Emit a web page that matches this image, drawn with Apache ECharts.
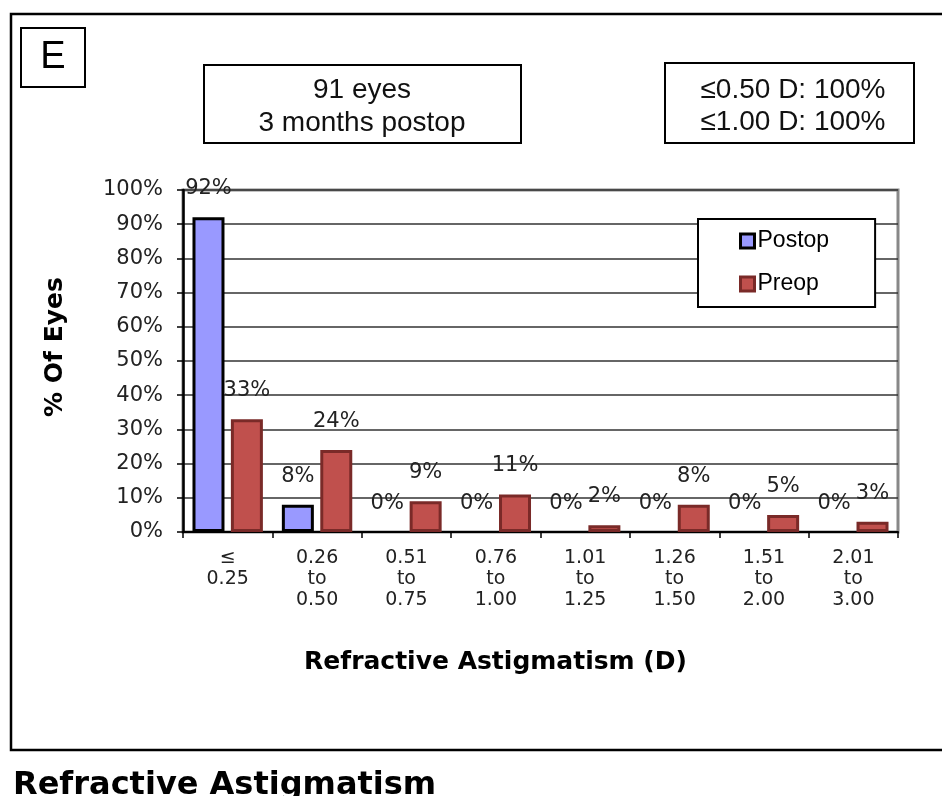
<!DOCTYPE html>
<html>
<head>
<meta charset="utf-8">
<script src="https://cdn.jsdelivr.net/npm/echarts@6/dist/echarts.min.js"></script>
<style>
  html, body { margin: 0; padding: 0; background: #fff; }
  #chart { width: 942px; height: 796px; }
</style>
</head>
<body>
<div id="chart"></div>
<script>
// Astigmatism ranges (dioptres) and share of eyes in each range
const categories = ['≤\n0.25', '0.26\nto\n0.50', '0.51\nto\n0.75', '0.76\nto\n1.00',
                    '1.01\nto\n1.25', '1.26\nto\n1.50', '1.51\nto\n2.00', '2.01\nto\n3.00'];
const postopValues = [92, 8, 0, 0, 0, 0, 0, 0];
const preopValues = [33, 24, 9, 11, 2, 8, 5, 3];
const panelLetter = 'E';
const cohortLines = ['91 eyes', '3 months postop'];
const summaryLines = ['≤0.50 D: 100%', '≤1.00 D: 100%'];
const chartTitle = 'Refractive Astigmatism';

const sans = '"Liberation Sans", Arial, sans-serif';
const verdana = '"DejaVu Sans", Verdana, sans-serif';

const chart = echarts.init(document.getElementById('chart'), null, { renderer: 'canvas' });

const barLabel = {
  show: true,
  position: 'top',
  distance: 18,
  formatter: '{c}%',
  color: '#222',
  fontFamily: verdana,
  fontSize: 21
};

// empty bars get no outline so nothing is stroked along the baseline
const withoutEmptyOutline = values =>
  values.map(v => (v === 0 ? { value: v, itemStyle: { borderWidth: 0 } } : v));

chart.setOption({
  animation: false,
  backgroundColor: '#fff',
  grid: {
    left: 183, top: 190, right: 44, bottom: 264,
    show: true,
    borderColor: '#888',
    borderWidth: 3
  },
  legend: {
    orient: 'vertical',
    left: 698,
    top: 219,
    backgroundColor: '#fff',
    borderColor: '#000',
    borderWidth: 2,
    padding: [10, 46, 11, 41],
    itemGap: 19,
    itemWidth: 14,
    itemHeight: 14,
    icon: 'rect',
    textStyle: { fontFamily: sans, fontSize: 23, color: '#000', lineHeight: 24, padding: [0, 0, 0, -2] },
    data: [
      { name: 'Postop', itemStyle: { color: '#9999ff', borderColor: '#000', borderWidth: 3 } },
      { name: 'Preop', itemStyle: { color: '#c0504d', borderColor: '#7a2a28', borderWidth: 3 } }
    ]
  },
  xAxis: {
    type: 'category',
    data: categories,
    boundaryGap: true,
    name: 'Refractive Astigmatism (D)',
    nameLocation: 'middle',
    nameGap: 118,
    nameTextStyle: { fontFamily: verdana, fontWeight: 'bold', fontSize: 25, color: '#000', padding: [0, 90, 0, 0] },
    axisLine: { lineStyle: { color: '#000', width: 2 } },
    axisTick: { show: true, inside: false, length: 6, alignWithLabel: false, lineStyle: { color: '#000', width: 1.5 } },
    axisLabel: { fontFamily: verdana, fontSize: 19, color: '#222', lineHeight: 21, margin: 16, interval: 0 },
    splitLine: { show: false }
  },
  yAxis: {
    type: 'value',
    min: 0,
    max: 100,
    interval: 10,
    name: '% Of Eyes',
    nameLocation: 'middle',
    nameRotate: 90,
    nameGap: 115,
    nameTextStyle: { fontFamily: verdana, fontWeight: 'bold', fontSize: 25, color: '#000', padding: [0, 0, 0, 28] },
    axisLine: { show: true, lineStyle: { color: '#000', width: 2.5 } },
    axisTick: { show: true, inside: false, length: 6, lineStyle: { color: '#000', width: 1.5 } },
    axisLabel: { formatter: '{value}%', fontFamily: verdana, fontSize: 21, color: '#222', margin: 20 },
    splitLine: { show: true, lineStyle: { color: '#333', width: 1.5 } }
  },
  series: [
    {
      name: 'Postop',
      type: 'bar',
      data: withoutEmptyOutline(postopValues),
      barWidth: 32,
      barGap: '20%',
      itemStyle: { color: '#9999ff', borderColor: '#000', borderWidth: 3 },
      label: barLabel
    },
    {
      name: 'Preop',
      type: 'bar',
      data: withoutEmptyOutline(preopValues),
      barWidth: 32,
      barGap: '20%',
      itemStyle: { color: '#c0504d', borderColor: '#7a2a28', borderWidth: 3 },
      label: barLabel
    }
  ],
  graphic: [
    // outer frame of the panel
    { type: 'rect', shape: { x: 11, y: 14, width: 960, height: 736 }, style: { fill: null, stroke: '#000', lineWidth: 2.5 }, z: -1 },
    // panel letter
    { type: 'rect', shape: { x: 21, y: 28, width: 64, height: 59 }, style: { fill: '#fff', stroke: '#000', lineWidth: 2 } },
    { type: 'text', x: 53, y: 58, style: { text: panelLetter, font: '38px ' + sans, fill: '#000', align: 'center', verticalAlign: 'middle' } },
    // cohort box
    { type: 'rect', shape: { x: 204, y: 65, width: 317, height: 78 }, style: { fill: '#fff', stroke: '#000', lineWidth: 2 } },
    { type: 'text', x: 362, y: 90, style: { text: cohortLines[0], font: '28px ' + sans, fill: '#111', align: 'center', verticalAlign: 'middle' } },
    { type: 'text', x: 362, y: 123, style: { text: cohortLines[1], font: '28px ' + sans, fill: '#111', align: 'center', verticalAlign: 'middle' } },
    // summary box
    { type: 'rect', shape: { x: 665, y: 63, width: 249, height: 80 }, style: { fill: '#fff', stroke: '#000', lineWidth: 2 } },
    { type: 'text', x: 793, y: 90, style: { text: summaryLines[0], font: '28px ' + sans, fill: '#111', align: 'center', verticalAlign: 'middle' } },
    { type: 'text', x: 793, y: 122, style: { text: summaryLines[1], font: '28px ' + sans, fill: '#111', align: 'center', verticalAlign: 'middle' } },
    // caption below the panel
    { type: 'text', x: 13, y: 786, style: { text: chartTitle, font: 'bold 32px ' + verdana, fill: '#000', align: 'left', verticalAlign: 'middle' } }
  ]
});
</script>
</body>
</html>
